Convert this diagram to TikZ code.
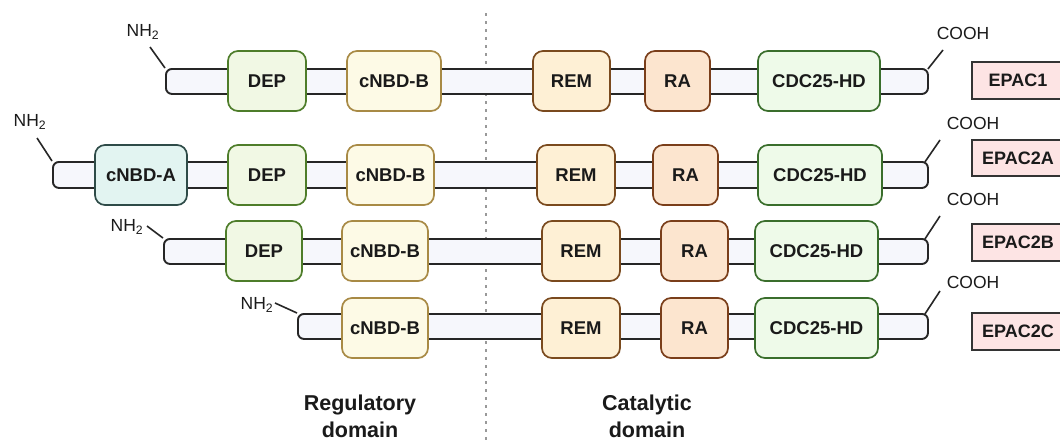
\documentclass[tikz,border=0pt]{standalone}
\usepackage{fontspec}
\setmainfont{Liberation Sans}
\definecolor{barfill}{HTML}{F6F7FC}
\definecolor{barline}{HTML}{262626}
\definecolor{depfill}{HTML}{F1F8E4}
\definecolor{depline}{HTML}{4E7D2A}
\definecolor{cbfill}{HTML}{FDFAE6}
\definecolor{cbline}{HTML}{A88A45}
\definecolor{cafill}{HTML}{E2F4F1}
\definecolor{caline}{HTML}{2E4B48}
\definecolor{remfill}{HTML}{FEF0D5}
\definecolor{remline}{HTML}{7A4A1E}
\definecolor{rafill}{HTML}{FCE5CF}
\definecolor{raline}{HTML}{7A3E1A}
\definecolor{cdcfill}{HTML}{EEFAE9}
\definecolor{cdcline}{HTML}{3A6E2C}
\definecolor{epfill}{HTML}{FDE4E4}
\definecolor{epline}{HTML}{333333}
\definecolor{txt}{HTML}{1A1A1A}
\begin{document}
\begin{tikzpicture}[x=1pt,y=-1pt,
  dombox/.style={draw, rounded corners=10pt, line width=1.7pt, inner sep=0pt,
    font=\bfseries\fontsize{18.5}{18.5}\selectfont, text=txt, minimum height=60pt},
  dep/.style={dombox, fill=depfill, draw=depline},
  cnbdb/.style={dombox, fill=cbfill, draw=cbline},
  cnbda/.style={dombox, fill=cafill, draw=caline},
  rem/.style={dombox, fill=remfill, draw=remline},
  ra/.style={dombox, fill=rafill, draw=raline},
  cdc/.style={dombox, fill=cdcfill, draw=cdcline},
  bar/.style={draw=barline, fill=barfill, line width=1.9pt, rounded corners=6pt,
    inner sep=0pt, anchor=north west},
  term/.style={font=\fontsize{17.5}{17.5}\selectfont, text=txt, inner sep=0pt},
  termline/.style={draw=barline, line width=1.6pt},
  epac/.style={draw=epline, fill=epfill, line width=1.6pt, inner sep=0pt,
    minimum width=92pt, font=\bfseries\fontsize{18}{18}\selectfont, text=txt},
  domlabel/.style={font=\bfseries\fontsize{21.5}{27}\selectfont, align=center, text=txt, inner sep=0pt}
]
\useasboundingbox (0,0) rectangle (1060,440);
\fill[white] (0,0) rectangle (1060,440);

% dashed divider
\draw[line width=1.4pt, draw=gray!80, dash pattern=on 3pt off 5pt] (486,13) -- (486,440);

% bars
\node[bar, minimum width=762pt, minimum height=25pt] (bar1) at (165,68) {};
\node[bar, minimum width=875pt, minimum height=26pt] (bar2) at (52,161) {};
\node[bar, minimum width=764pt, minimum height=25pt] (bar3) at (163,238) {};
\node[bar, minimum width=630pt, minimum height=25pt] (bar4) at (297,313) {};

% row 1
\node[dep, minimum width=78pt] (dep1) at (267,81) {DEP};
\node[cnbdb, minimum width=94pt] (cb1) at (394,81) {cNBD-B};
\node[rem, minimum width=77pt] (rem1) at (571.5,81) {REM};
\node[ra, minimum width=65pt] (ra1) at (677.5,81) {RA};
\node[cdc, minimum width=122pt] (cdc1) at (819,81) {CDC25-HD};

% row 2
\node[cnbda, minimum width=92pt] (ca2) at (141,175) {cNBD-A};
\node[dep, minimum width=78pt] (dep2) at (267,175) {DEP};
\node[cnbdb, minimum width=87pt] (cb2) at (390.5,175) {cNBD-B};
\node[rem, minimum width=78pt] (rem2) at (576,175) {REM};
\node[ra, minimum width=65pt] (ra2) at (685.5,175) {RA};
\node[cdc, minimum width=124pt] (cdc2) at (820,175) {CDC25-HD};

% row 3
\node[dep, minimum width=76pt] (dep3) at (264,251) {DEP};
\node[cnbdb, minimum width=86pt] (cb3) at (385,251) {cNBD-B};
\node[rem, minimum width=78pt] (rem3) at (581,251) {REM};
\node[ra, minimum width=67pt] (ra3) at (694.5,251) {RA};
\node[cdc, minimum width=123pt] (cdc3) at (816.5,251) {CDC25-HD};

% row 4
\node[cnbdb, minimum width=86pt] (cb4) at (385,328) {cNBD-B};
\node[rem, minimum width=78pt] (rem4) at (581,328) {REM};
\node[ra, minimum width=67pt] (ra4) at (694.5,328) {RA};
\node[cdc, minimum width=123pt] (cdc4) at (816.5,328) {CDC25-HD};

% N-terminal labels
\node[term] (nh1) at (143,32) {NH\textsubscript{2}};
\node[term] (nh2) at (30,122) {NH\textsubscript{2}};
\node[term] (nh3) at (127,227) {NH\textsubscript{2}};
\node[term] (nh4) at (257,305) {NH\textsubscript{2}};
\coordinate (nh1s) at (150,47);
\coordinate (nh2s) at (37,138);
\coordinate (nh3s) at (147,226);
\coordinate (nh4s) at (275,303);
\draw[termline] (nh1s) -- (bar1.north west);
\draw[termline] (nh2s) -- (bar2.north west);
\draw[termline] (nh3s) -- (bar3.north west);
\draw[termline] (nh4s) -- (bar4.north west);

% C-terminal labels
\node[term] (co1) at (963,33) {COOH};
\node[term] (co2) at (973,123) {COOH};
\node[term] (co3) at (973,199) {COOH};
\node[term] (co4) at (973,282) {COOH};
\coordinate (co1s) at (943,50);
\coordinate (co2s) at (940,140);
\coordinate (co3s) at (940,216);
\coordinate (co4s) at (940,291);
\draw[termline] ([xshift=-1pt,yshift=-1pt]bar1.north east) -- (co1s);
\draw[termline] ([xshift=-4pt,yshift=-1pt]bar2.north east) -- (co2s);
\draw[termline] ([xshift=-4pt,yshift=-1pt]bar3.north east) -- (co3s);
\draw[termline] ([xshift=-4pt,yshift=-1pt]bar4.north east) -- (co4s);

% isoform labels
\node[epac, minimum height=37pt] (e1) at (1018,80.5) {EPAC1};
\node[epac, minimum height=36pt] (e2) at (1018,158) {EPAC2A};
\node[epac, minimum height=37pt] (e3) at (1018,242.5) {EPAC2B};
\node[epac, minimum height=37pt] (e4) at (1018,331.5) {EPAC2C};

% domain labels
\node[domlabel] (reg) at (360,416) {Regulatory\\domain};
\node[domlabel] (cat) at (647,416) {Catalytic\\domain};
\end{tikzpicture}
\end{document}
